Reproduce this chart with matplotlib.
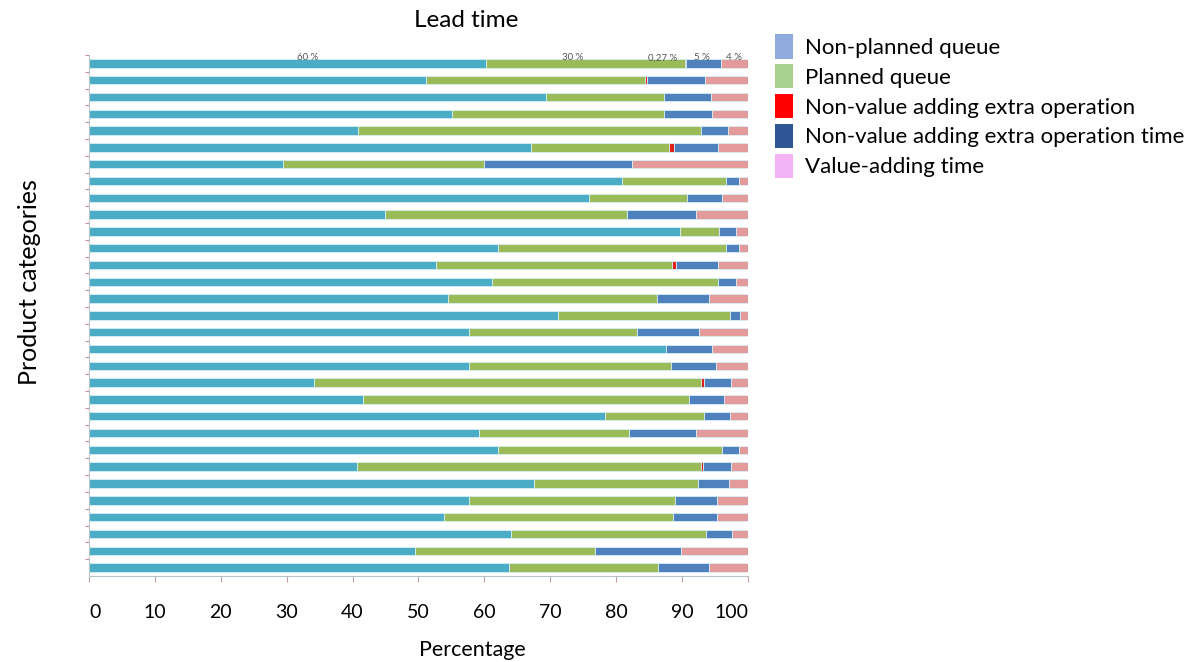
import numpy as np
import matplotlib.pyplot as plt
from matplotlib.patches import Patch

plt.rcParams['font.family'] = ['Lato', 'DejaVu Sans']

# Shares of lead time per product category (percent), top bar first
non_planned = [60.3, 51.1, 69.4, 55.1, 40.8, 67.1, 29.5, 80.9, 75.8, 44.9, 89.7, 62.0, 52.6,
               61.1, 54.5, 71.2, 57.7, 87.5, 57.7, 34.2, 41.6, 78.3, 59.2, 62.0, 40.6, 67.6,
               57.7, 53.9, 64.1, 49.5, 63.8]
planned = [30.1, 33.3, 17.9, 32.2, 52.0, 20.9, 30.4, 15.8, 15.0, 36.7, 5.9, 34.6, 35.9,
           34.3, 31.7, 26.0, 25.4, 0.0, 30.6, 58.7, 49.5, 15.1, 22.7, 34.1, 52.2, 24.8,
           31.2, 34.7, 29.5, 27.3, 22.6]
extra_op = [0.27, 0.3, 0.0, 0.0, 0.0, 0.7, 0.0, 0.0, 0.0, 0.0, 0.0, 0.0, 0.6,
            0.0, 0.0, 0.0, 0.0, 0.0, 0.0, 0.5, 0.0, 0.0, 0.0, 0.0, 0.4, 0.0,
            0.0, 0.0, 0.0, 0.0, 0.0]
extra_time = [5.3, 8.8, 7.1, 7.2, 4.1, 6.7, 22.5, 2.0, 5.3, 10.5, 2.6, 2.0, 6.4,
              2.8, 7.9, 1.6, 9.5, 7.0, 6.8, 4.0, 5.2, 3.8, 10.2, 2.5, 4.2, 4.7,
              6.4, 6.7, 4.0, 13.0, 7.7]
value_adding = [4.0, 6.5, 5.6, 5.5, 3.1, 4.6, 17.6, 1.3, 3.9, 7.9, 1.8, 1.4, 4.5,
                1.8, 5.9, 1.2, 7.4, 5.5, 4.9, 2.6, 3.7, 2.8, 7.9, 1.4, 2.6, 2.9,
                4.7, 4.7, 2.4, 10.2, 5.9]

top_labels = ['60 %', '30 %', '0,27 %', '5 %', '4 %']
top_label_x = [33.2, 73.4, 87.0, 93.0, 97.9]

legend_names = ['Non-planned queue', 'Planned queue', 'Non-value adding extra operation',
                'Non-value adding extra operation time', 'Value-adding time']
bar_colors = ['#4bacc6', '#9bbb59', '#e0201b', '#4f81bd', '#e39a9a']
legend_colors = ['#8faadc', '#a9d18e', '#ff0000', '#2f5597', '#f4b3f4']

series = [non_planned, planned, extra_op, extra_time, value_adding]

fig = plt.figure(figsize=(11.96, 6.62), dpi=100)
ax = fig.add_axes([0.0744, 0.13, 0.551, 0.787])

y = np.arange(len(non_planned))
left = np.zeros(len(y))
for vals, col in zip(series, bar_colors):
    vals = np.array(vals)
    ax.barh(y, vals, left=left, height=0.5, color=col, edgecolor='#d8eef4', linewidth=0.6)
    left += vals

for txt, xp in zip(top_labels, top_label_x):
    ax.text(xp, -0.32, txt, fontsize=7, color='#555555', ha='center', va='center')

ax.set_xlim(0, 100)
ax.set_ylim(len(y) - 0.5, -0.5)
ax.set_xticks(np.arange(0, 101, 10))
xl = ax.set_xticklabels([str(v) for v in range(0, 101, 10)], fontsize=14)
xl[0].set_ha('left')
xl[-1].set_ha('right')
ax.tick_params(axis='x', length=4, color='#c0a0a0', pad=16)
ax.set_yticks(np.arange(len(y)) - 0.5)
ax.set_yticklabels([])
ax.tick_params(axis='y', length=3, color='#c09090', width=0.8)
for s in ['top', 'right']:
    ax.spines[s].set_visible(False)
for s in ['left', 'bottom']:
    ax.spines[s].set_color('#b8c4cc')
    ax.spines[s].set_linewidth(0.8)

fig.text(0.39, 0.969, 'Lead time', fontsize=17.5, ha='center', va='center')
fig.text(0.395, 0.003, 'Percentage', fontsize=15.5, ha='center', va='bottom')
fig.text(0.025, 0.574, 'Product categories', fontsize=18, rotation=90, ha='center', va='center')

handles = [Patch(facecolor=c, edgecolor='none') for c in legend_colors]
fig.legend(handles, legend_names, loc='upper left', bbox_to_anchor=(0.648, 0.948),
           frameon=False, fontsize=16, handlelength=0.8, handleheight=1.3,
           handletextpad=0.55, labelspacing=0.25, borderaxespad=0, borderpad=0)

fig.savefig('out.png', dpi=100)
